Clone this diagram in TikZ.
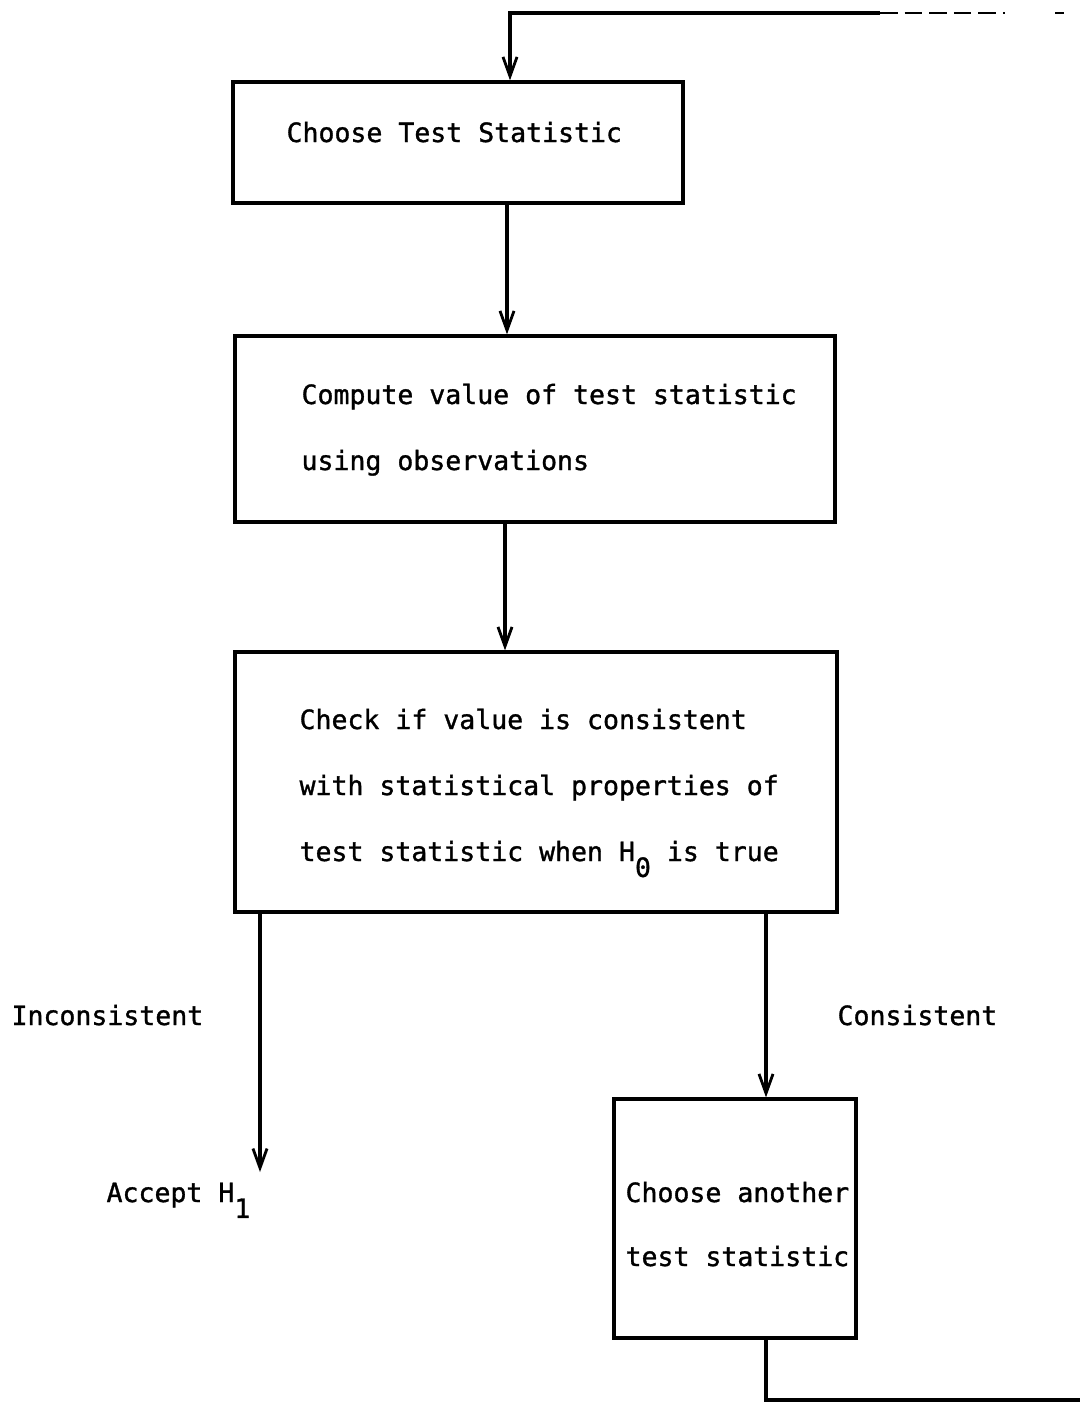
\documentclass[tikz,border=0pt]{standalone}
\usepackage{fontspec}
\setmainfont[FakeBold=1.2,AutoFakeBold=1.2]{DejaVu Sans Mono}
\usetikzlibrary{arrows.meta}
\begin{document}
\begin{tikzpicture}[x=0.02cm,y=-0.02cm,
  line width=1.8pt,
  box/.style={draw,line width=1.9pt,inner sep=0pt},
  txt/.style={anchor=base west,inner sep=0pt,font=\fontsize{15.1}{18}\selectfont\bfseries},
  arr/.style={-{Straight Barb[length=11pt,width=8pt,line width=1.6pt]}}]
\useasboundingbox (0,0) rectangle (1080,1403);

% boxes
\node[box,minimum width=9cm,minimum height=2.42cm] (b1) at (458,142.5) {};
\node[box,minimum width=12cm,minimum height=3.72cm] (b2) at (535,429) {};
\node[box,minimum width=12.04cm,minimum height=5.2cm] (b3) at (536,782) {};
\node[box,minimum width=4.84cm,minimum height=4.78cm] (b4) at (735,1218.5) {};

% box texts
\node[txt] (t1) at (285,142) {Choose Test Statistic};
\node[txt] (t2a) at (300,404) {Compute value of test statistic};
\node[txt] (t2b) at (300,470) {using observations};
\node[txt] (t3a) at (298,729) {Check if value is consistent};
\node[txt] (t3b) at (298,795) {with statistical properties of};
\node[txt] (t3c) at (298,861) {test statistic when H\raisebox{-0.6em}{0} is true};
\node[txt] (t4a) at (624,1202) {Choose another};
\node[txt] (t4b) at (624,1266) {test statistic};

% branch labels and outcome
\node[txt] (lin) at (10,1025) {Inconsistent};
\node[txt] (lcon) at (836,1025) {Consistent};
\node[txt] (acc) at (105,1202) {Accept H\raisebox{-0.6em}{1}};

% connectors
\coordinate (acctip) at (260,1172);
\coordinate (loopR) at (1080,1400);
\coordinate (topA) at (880,13);
\coordinate (topB) at (1005,13);
\coordinate (topC) at (1055,13);
\coordinate (topD) at (1064,13);

\draw[arr] (507,0 |- b1.south) -- (507,0 |- b2.north);
\draw[arr] (505,0 |- b2.south) -- (505,0 |- b3.north);
\draw[arr] (260,0 |- b3.south) -- (acctip);
\draw[arr] (766,0 |- b3.south) -- (766,0 |- b4.north);
\draw (766,0 |- b4.south) |- (loopR);
\draw[arr] (topA) -| (510,0 |- b1.north);
\draw[line width=1.2pt,dash pattern=on 10pt off 4pt] (topA) -- (topB);
\draw[line width=1.2pt] (topC) -- (topD);
\end{tikzpicture}
\end{document}
